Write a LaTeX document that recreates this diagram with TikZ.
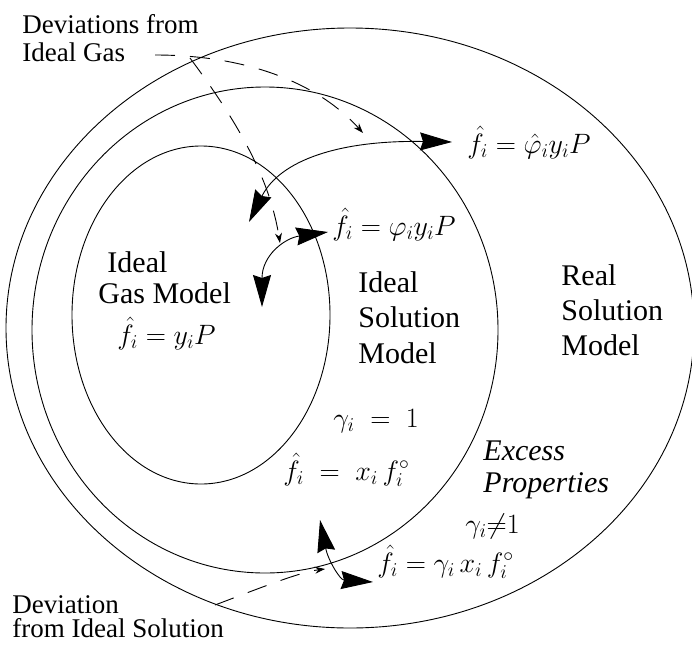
\RequirePackage{fix-cm}
\documentclass[tikz,border=0pt]{standalone}
\usepackage{fontspec}
\setmainfont{Liberation Serif}
\usetikzlibrary{arrows.meta}

\begin{document}
\begin{tikzpicture}[x=1pt,y=-1pt,line width=0.9pt,
    big tips/.style={{Stealth[length=32pt,width=18pt,inset=3pt]}-{Stealth[length=32pt,width=18pt,inset=3pt]}},
    dev line/.style={dash pattern=on 20pt off 15pt,-{Stealth[length=10pt,width=7pt]}},
    region label/.style={align=left,anchor=base west,inner sep=0pt,font=\fontsize{30}{35}\selectfont},
    corner label/.style={align=left,anchor=base west,inner sep=0pt,font=\fontsize{27}{28}\selectfont},
    eq/.style={anchor=base west,inner sep=0pt,font=\fontsize{28}{30}\selectfont}]
    \useasboundingbox (0,0) rectangle (692,645);
    \draw (350,328) ellipse [x radius=344, y radius=300];
    \draw (265,330) ellipse [x radius=233, y radius=243];
    \draw (201,315) ellipse [x radius=129, y radius=169];
    \node[corner label] (devgas) at (22,61) {Deviations from\\Ideal Gas};
    \node[corner label, font=\fontsize{27}{24}\selectfont] (devsol) at (12,637) {Deviation\\from Ideal Solution};
    \node[region label, font=\fontsize{30}{31}\selectfont] (gasmodel) at (98,303) {\hspace{9pt}Ideal\\Gas Model};
    \node[eq] (gaslaw) at (117,344) {$\hat f_i = y_i P$};
    \node[region label, font=\fontsize{30}{35.5}\selectfont] (idealsol) at (358,363) {Ideal\\Solution\\Model};
    \node[region label] (realsol) at (561,355) {Real\\Solution\\Model};
    \node[eq] (gammaone) at (333,427) {$\gamma_i \;=\; 1$};
    \node[eq] (idealfug) at (283,480) {$\hat f_i \;=\; x_i\, f_i^{\circ}$};
    \node[region label, font=\fontsize{30}{32}\selectfont\itshape] (excess) at (483,492) {Excess\\Properties};
    \node[eq] (gammanot) at (465,533) {$\gamma_i{\neq}1$};
    \node[eq] (realfug) at (377,572) {$\hat f_i = \gamma_i\, x_i\, f_i^{\circ}$};
    \node[eq] (phihat) at (467,153) {$\hat f_i = \hat\varphi_i y_i P$};
    \node[eq] (phipure) at (332,235) {$\hat f_i = \varphi_i y_i P$};
    \coordinate (gasend) at (155,55);
    \coordinate (gasend2) at (190,58);
    \coordinate (solend) at (215,605);
    \coordinate (mixtip) at (452,142);
    \coordinate (mixback) at (249,222);
    \coordinate (puretip) at (328,232);
    \coordinate (pureback) at (262,307);
    \coordinate (exup) at (320,520);
    \coordinate (extip) at (373,582);
    \draw[big tips] (mixback) .. controls (280,160) and (340,140) .. (mixtip);
    \draw[big tips] (pureback) .. controls (262,255) and (285,238) .. (puretip);
    \draw[big tips] (exup) .. controls (328,560) and (340,580) .. (extip);
    \draw[dev line] (gasend) .. controls (250,55) and (320,85) .. (363,133);
    \draw[dev line] (gasend2) .. controls (240,125) and (270,180) .. (280,243);
    \draw[dev line] (solend) .. controls (260,588) and (300,572) .. (325,569);
\end{tikzpicture}
\end{document}
